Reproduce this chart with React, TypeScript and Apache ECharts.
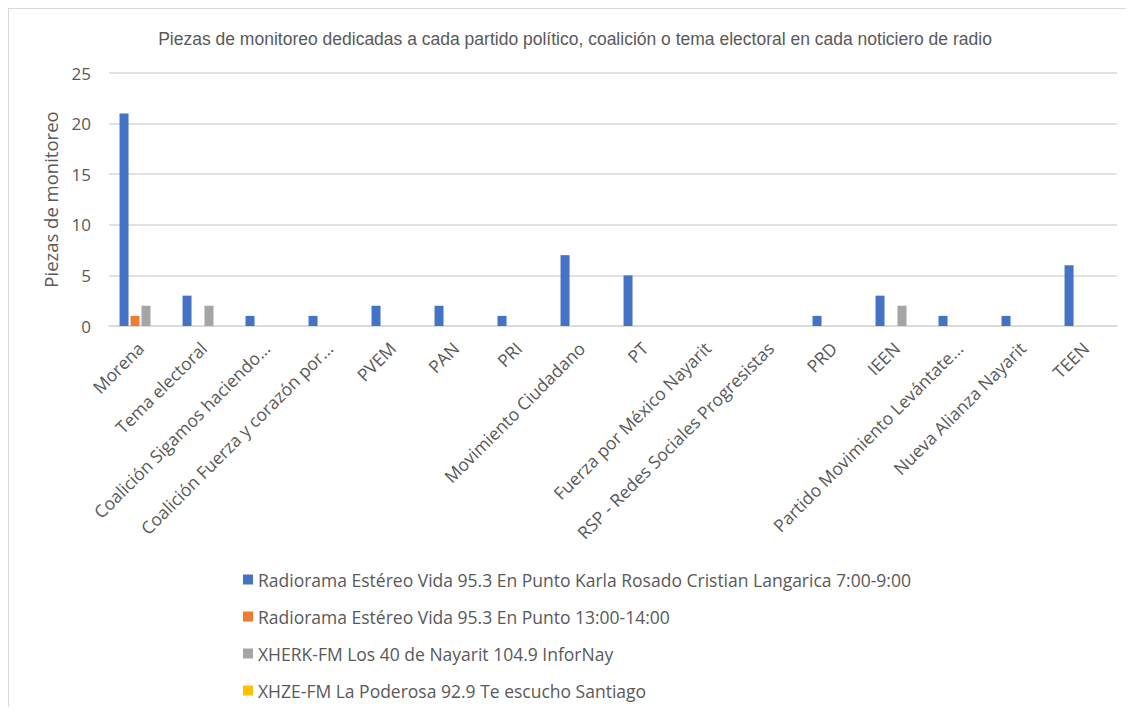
import React, { useEffect, useRef } from "react";
import * as echarts from "echarts";

const categories = [
  "Morena",
  "Tema electoral",
  "Coalición Sigamos haciendo...",
  "Coalición Fuerza y corazón por...",
  "PVEM",
  "PAN",
  "PRI",
  "Movimiento Ciudadano",
  "PT",
  "Fuerza por México Nayarit",
  "RSP - Redes Sociales Progresistas",
  "PRD",
  "IEEN",
  "Partido Movimiento Levántate...",
  "Nueva Alianza Nayarit",
  "TEEN",
];

const seriesNames = [
  "Radiorama Estéreo Vida 95.3 En Punto Karla Rosado Cristian Langarica 7:00-9:00",
  "Radiorama Estéreo Vida 95.3 En Punto 13:00-14:00",
  "XHERK-FM Los 40 de Nayarit 104.9 InforNay",
  "XHZE-FM La Poderosa 92.9 Te escucho Santiago",
];

const radioramaManana = [21, 3, 1, 1, 2, 2, 1, 7, 5, 0, 0, 1, 3, 1, 1, 6];
const radioramaTarde = [1, 0, 0, 0, 0, 0, 0, 0, 0, 0, 0, 0, 0, 0, 0, 0];
const xherk = [2, 2, 0, 0, 0, 0, 0, 0, 0, 0, 0, 0, 2, 0, 0, 0];
const xhze = [0, 0, 0, 0, 0, 0, 0, 0, 0, 0, 0, 0, 0, 0, 0, 0];

const seriesData = [radioramaManana, radioramaTarde, xherk, xhze];
const colors = ["#4472C4", "#ED7D31", "#A5A5A5", "#FFC000"];

const titleText =
  "Piezas de monitoreo dedicadas a cada partido político, coalición o tema electoral en cada noticiero de radio";
const yAxisName = "Piezas de monitoreo";

export default function App() {
  const ref = useRef<HTMLDivElement>(null);

  useEffect(() => {
    if (!ref.current) return;
    const chart = echarts.init(ref.current, null, { renderer: "svg" });
    const textColor = "#595959";
    const font = "'Open Sans', sans-serif";
    chart.setOption({
      animation: false,
      color: colors,
      title: {
        text: titleText,
        left: 561,
        top: 16,
        textAlign: "center",
        textStyle: {
          fontFamily: "'Liberation Sans', Arial, sans-serif",
          fontSize: 17.5,
          fontWeight: "normal",
          color: textColor,
        },
      },
      grid: { left: 100, top: 64, width: 1008, height: 253 },
      legend: {
        orient: "vertical",
        left: 229,
        top: 555,
        height: 140,
        itemWidth: 10,
        itemHeight: 10,
        itemGap: 16,
        icon: "rect",
        textStyle: { fontFamily: font, fontSize: 17.5, color: textColor, lineHeight: 21 },
        data: seriesNames,
      },
      xAxis: {
        type: "category",
        data: categories,
        axisLine: { lineStyle: { color: "#d9d9d9", width: 1.5 } },
        axisTick: { show: false },
        axisLabel: {
          rotate: 45,
          interval: 0,
          margin: 19,
          fontFamily: font,
          fontSize: 17.5,
          color: textColor,
        },
      },
      yAxis: {
        type: "value",
        min: 0,
        max: 25,
        interval: 5,
        name: yAxisName,
        nameLocation: "middle",
        nameGap: 49,
        nameTextStyle: { fontFamily: font, fontSize: 18.5, color: textColor },
        axisLine: { show: false },
        axisTick: { show: false },
        axisLabel: { fontFamily: font, fontSize: 17, color: textColor, margin: 18 },
        splitLine: { lineStyle: { color: "#d9d9d9", width: 1.5 } },
      },
      series: seriesNames.map((name, i) => ({
        name,
        type: "bar",
        data: seriesData[i],
        barWidth: 9,
        barGap: "22%",
        itemStyle: { color: colors[i] },
      })),
    });
    return () => chart.dispose();
  }, []);

  return (
    <div
      style={{
        width: 1125,
        height: 698,
        borderTop: "1px solid #d9d9d9",
        borderLeft: "1px solid #d9d9d9",
        background: "#fff",
      }}
    >
      <div ref={ref} style={{ width: 1125, height: 698 }} />
    </div>
  );
}
